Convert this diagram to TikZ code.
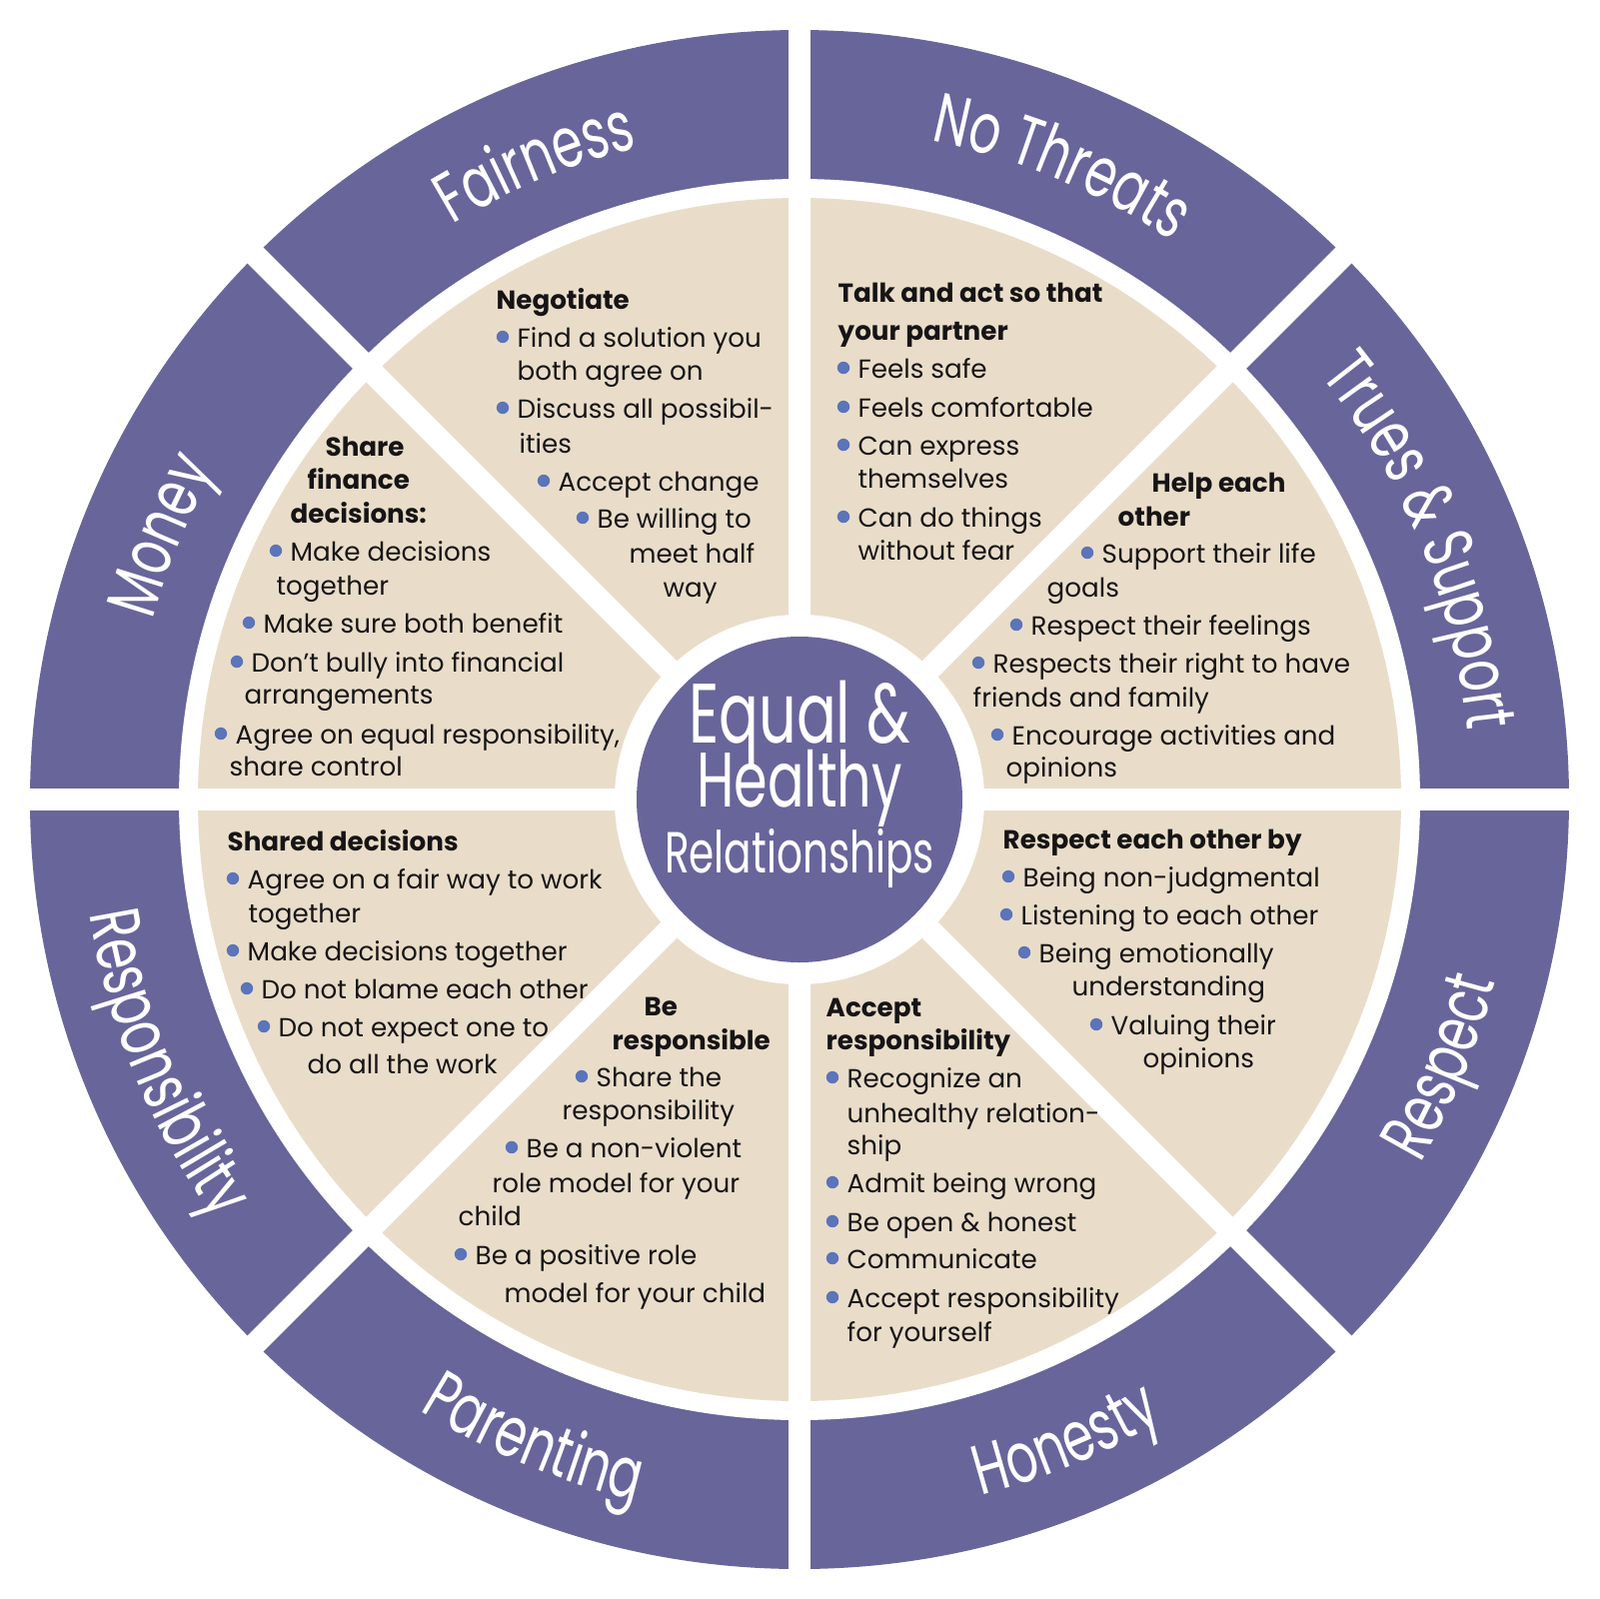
\documentclass[tikz,border=0pt]{standalone}
\usepackage{fontspec}
\setmainfont{Poppins}
\newfontfamily\hand[FakeStretch=0.7]{Poppins}
\usetikzlibrary{decorations.text}
\definecolor{ringpurple}{HTML}{68659B}
\definecolor{wedgebeige}{HTML}{E9DDC9}
\definecolor{dotblue}{HTML}{5B74BA}
\definecolor{ink}{HTML}{161415}
\newcommand{\rimfont}{\color{white}\hand\fontsize{20}{20}\selectfont}

\begin{document}
\begin{tikzpicture}[
    x=0.1mm, y=-0.1mm,
    s0/.style={anchor=base west, inner sep=0pt, text=ink, font=\fontsize{7.45}{9}\selectfont},
    s1/.style={s0},
    s2/.style={s0, font=\fontsize{7.45}{9}\selectfont\bfseries},
    gap/.style={white, line width=2.25mm},
    hubtext/.style={anchor=base, inner sep=0pt, text=white},
    rim/.style={decorate, decoration={text along path, text align=center, text={#1}}}
]
\useasboundingbox (0,0) rectangle (1600,1600);

% wheel
\fill[ringpurple] (800,800) circle[radius=770];
\fill[white] (800,800) circle[radius=621];
\fill[wedgebeige] (800,800) circle[radius=602];
\foreach \a in {0,45,90,135}
  \draw[gap] (800,800) ++(\a:-800) -- ++(\a:1600);
\fill[white] (800,800) circle[radius=185];
\node[circle, fill=ringpurple, inner sep=0pt, minimum size=32.6mm] (hub) at (800,800) {};

\node[hubtext, font=\hand\fontsize{24}{24}\selectfont] (equal) at (800,743) {Equal \&};
\node[hubtext, font=\hand\fontsize{22}{22}\selectfont] (healthy) at (800,807) {Healthy};
\node[hubtext, font=\hand\fontsize{16.5}{16.5}\selectfont] (relations) at (800,873) {Relationships};

% rim labels
\begin{scope}[shift={(800,800)}, y=0.1mm]
\path[rim={|\rimfont|Money}] (180:672) arc[start angle=180, end angle=135, radius=672];
\path[rim={|\rimfont|Fairness}] (135:672) arc[start angle=135, end angle=90, radius=672];
\path[rim={|\rimfont|No Threats}] (90:672) arc[start angle=90, end angle=45, radius=672];
\path[rim={|\rimfont|Trues {\&} Support}] (45:672) arc[start angle=45, end angle=0, radius=672];
\path[rim={|\rimfont|Responsibility}] (180:720) arc[start angle=180, end angle=225, radius=720];
\path[rim={|\rimfont|Parenting}] (225:720) arc[start angle=225, end angle=270, radius=720];
\path[rim={|\rimfont|Honesty}] (270:720) arc[start angle=270, end angle=315, radius=720];
\path[rim={|\rimfont|Respect}] (315:720) arc[start angle=315, end angle=360, radius=720];
\end{scope}

% fairness
\foreach \x/\y/\k/\t [count=\i] in {
  496/309/2/Negotiate, 517/347/1/Find a solution you, 517/380/0/both agree on,
  517/418/1/Discuss all possibil-, 519/453/0/ities, 558/491/1/Accept change,
  597/528/1/Be willing to, 629/563/0/meet half, 663/597/0/way}{
  \node[s\k] (fair\i) at (\x,\y) {\t};
  \ifnum\k=1 \fill[dotblue] (\x-14,\y-10) circle[radius=6.2]; \fi
}
% no threats
\foreach \x/\y/\k/\t [count=\i] in {
  838/302/2/Talk and act so that, 838/340/2/your partner, 858/378/1/Feels safe,
  858/417/1/Feels comfortable, 858/455/1/Can express, 858/488/0/themselves,
  858/527/1/Can do things, 858/560/0/without fear}{
  \node[s\k] (threat\i) at (\x,\y) {\t};
  \ifnum\k=1 \fill[dotblue] (\x-14,\y-10) circle[radius=6.2]; \fi
}
% trust and support
\foreach \x/\y/\k/\t [count=\i] in {
  1152/492/2/Help each, 1118/526/2/other, 1102/563/1/Support their life,
  1047/597/0/goals, 1031/635/1/Respect their feelings,
  993/673/1/Respects their right to have, 973/707/0/friends and family,
  1012/745/1/Encourage activities and, 1006/777/0/opinions}{
  \node[s\k] (trust\i) at (\x,\y) {\t};
  \ifnum\k=1 \fill[dotblue] (\x-14,\y-10) circle[radius=6.2]; \fi
}
% respect
\foreach \x/\y/\k/\t [count=\i] in {
  1003/849/2/Respect each other by, 1023/887/1/Being non-judgmental,
  1021/925/1/Listening to each other, 1039/963/1/Being emotionally,
  1072/996/0/understanding, 1111/1035/1/Valuing their, 1143/1068/0/opinions}{
  \node[s\k] (resp\i) at (\x,\y) {\t};
  \ifnum\k=1 \fill[dotblue] (\x-14,\y-10) circle[radius=6.2]; \fi
}
% honesty
\foreach \x/\y/\k/\t [count=\i] in {
  826/1017/2/Accept, 826/1050/2/responsibility, 847/1088/1/Recognize an,
  847/1123/0/unhealthy relation-, 847/1155/0/ship, 847/1193/1/Admit being wrong,
  847/1232/1/Be open \& honest, 847/1269/1/Communicate,
  847/1308/1/Accept responsibility, 847/1342/0/for yourself}{
  \node[s\k] (honest\i) at (\x,\y) {\t};
  \ifnum\k=1 \fill[dotblue] (\x-14,\y-10) circle[radius=6.2]; \fi
}
% parenting
\foreach \x/\y/\k/\t [count=\i] in {
  644/1016/2/Be, 612/1050/2/responsible, 596/1087/1/Share the,
  562/1120/0/responsibility, 526/1158/1/Be a non-violent,
  492/1193/0/role model for your, 458/1226/0/child,
  475/1265/1/Be a positive role, 504/1303/0/model for your child}{
  \node[s\k] (parent\i) at (\x,\y) {\t};
  \ifnum\k=1 \fill[dotblue] (\x-14,\y-10) circle[radius=6.2]; \fi
}
% responsibility
\foreach \x/\y/\k/\t [count=\i] in {
  227/851/2/Shared decisions, 247/889/1/Agree on a fair way to work,
  248/923/0/together, 247/961/1/Make decisions together,
  261/999/1/Do not blame each other, 278/1037/1/Do not expect one to,
  307/1074/0/do all the work}{
  \node[s\k] (duty\i) at (\x,\y) {\t};
  \ifnum\k=1 \fill[dotblue] (\x-14,\y-10) circle[radius=6.2]; \fi
}
% money
\foreach \x/\y/\k/\t [count=\i] in {
  325/456/2/Share, 307/489/2/finance, 290/523/2/decisions:,
  290/561/1/Make decisions, 276/595/0/together,
  263/633/1/Make sure both benefit, 251/672/1/Don’t bully into financial,
  244/704/0/arrangements, 235/744/1/{Agree on equal responsibility,},
  229/776/0/share control}{
  \node[s\k] (money\i) at (\x,\y) {\t};
  \ifnum\k=1 \fill[dotblue] (\x-14,\y-10) circle[radius=6.2]; \fi
}
\end{tikzpicture}
\end{document}
